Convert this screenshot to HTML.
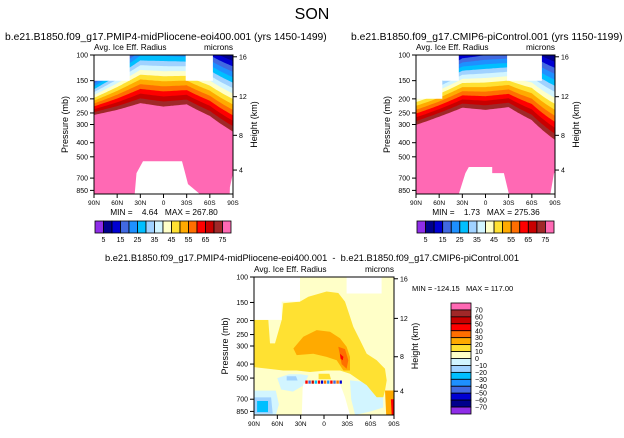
<!DOCTYPE html>
<html><head><meta charset="utf-8"><style>
body{margin:0;background:#fff}
svg text{font-family:"Liberation Sans",sans-serif;fill:#000;white-space:pre}
</style></head><body>
<svg id="chart" width="624" height="433" viewBox="0 0 624 433" xmlns="http://www.w3.org/2000/svg">
<text x="312" y="19" font-size="16" text-anchor="middle">SON</text>
</svg>
<script>
const colors=['#8F2DE8','#00008C','#0000D2','#4169E1','#1E90FF','#00BFFF','#A0D2FF','#D2F5FF','#FFFFC8','#FFE132','#FFAA00','#FF6E00','#FF0000','#C80000','#A02828','#FF69B4'];
const topLevels=[5,10,15,20,25,30,35,40,45,50,55,60,65,70,75];
const diffLevels=[-70,-60,-50,-40,-30,-20,-10,0,10,20,30,40,50,60,70];
const pTicks=[100,150,200,250,300,400,500,700,850];
const kmTicks=[16,12,8,4];
const latTicks=[90,60,30,0,-30,-60,-90];
const latLabels=['90N','60N','30N','0','30S','60S','90S'];
// panel A field
const latsA=[90,60,30,0,-30,-60,-90];
const tropoA=[258,238,214,226,218,262,336];
const spaceA=[0.045,0.06,0.075,0.08,0.075,0.08,0.086];
const maskTopA=[[[90,100],[43.8,100],[43.8,150],[90,150]],[[-28.7,100],[-64,100],[-64,150],[-28.7,150]]];
const maskSfcA=[[[37.3,900],[35,647],[26.5,537],[-24,537],[-27.4,630],[-31.7,770],[-47,900]],[[-85.7,900],[-86,810],[-90,647],[-90,900]]];
// panel B field
const tropoB=[302,265,230,238,228,280,383];
const spaceB=[0.06,0.06,0.065,0.072,0.07,0.085,0.095];
const maskTopB=[[[90,100],[34.6,100],[34.6,150],[56,150],[56,200],[90,200]],[[-28,100],[-73,100],[-73,150],[-28,150]]];
const maskSfcB=[[[34.6,900],[26,647],[21.6,587],[-8.7,587],[-8.7,647],[-23.8,647],[-30.3,900]],[[-84,900],[-88.7,647],[-90,647],[-90,900]]];
// diff field polygons [lat,p]
const diffGold=[[90,198],[71.6,198],[69.4,288],[63,288],[54.4,198],[52.3,152],[30.9,148],[20.1,137],[-3.4,126],[-18.4,129],[-27,148],[-33.4,188],[-37.7,221],[-46.3,273],[-54.9,339],[-67.7,377],[-78.4,431],[-80.6,519],[-78.4,609],[-76.3,679],[-67.7,679],[-54.9,561],[-33.4,466],[-20.6,443],[-3.4,443],[18,454],[35.1,443],[52.3,443],[71.6,431],[90,420]];
const diffOrange=[[39.4,312],[26.6,259],[9.4,233],[-7.7,239],[-20.6,265],[-29.1,304],[-33.4,357],[-33.4,443],[-24.9,443],[-16.3,377],[-3.4,357],[13.7,339],[35.1,347]];
const diffDkOrange=[[-18.4,304],[-27,315],[-31.2,377],[-29.1,431],[-22.7,400]];
const diffRed=[[-20.6,339],[-24.9,357],[-24,377],[-21.4,367]];
const diffGoldSmall=[[7,466],[-7,466],[-9,510],[7,510]];
const diffCyan1=[[60,500],[45,470],[30,470],[20,480],[26,560],[40,620],[55,600]];
const diffCyan2=[[-33.4,519],[-50,530],[-76,560],[-76,800],[-60,850],[-40,900],[-35,700]];
const diffCyan3=[[90,610],[62,610],[58,760],[62,900],[90,900]];
const diffBlue1=[[48,485],[36,485],[34,520],[48,520]];
const diffBlue2=[[90,680],[68,680],[66,880],[90,880]];
const diffSky=[[86,720],[72,720],[72,860],[86,860]];
const diffStripR=[[-78.4,609],[-90,609],[-90,900],[-80,900]];
const diffStripRed=[[-86,700],[-90,700],[-90,900],[-87,900]];
const diffMaskTop=[[[90,100],[30.9,100],[30.9,148],[54.4,148],[54.4,198],[90,198]],[[-29,100],[-74,100],[-74,130],[-29,130]]];
const diffMaskSfc=[[[28.5,900],[27.5,600],[26.6,547],[-20.6,547],[-27,679],[-33.4,900]]];
const speckLats=[24,20,16,12,8,4,0,-4,-8,-12,-16,-20];
const speckIdx=[12,3,13,5,12,2,11,4,12,3,11,2];

const svg=document.getElementById('chart');
const NS='http://www.w3.org/2000/svg';
function el(t,a,parent){const e=document.createElementNS(NS,t);for(const k in a)e.setAttribute(k,a[k]);(parent||svg).appendChild(e);return e;}
function txt(s,a,parent){const e=el('text',a,parent);e.textContent=s;return e;}
function interp(lats,vals,lat){for(let i=0;i<lats.length-1;i++){if(lat<=lats[i]&&lat>=lats[i+1]){const t=(lats[i]-lat)/(lats[i]-lats[i+1]);return vals[i]+t*(vals[i+1]-vals[i]);}}return vals[vals.length-1];}
function kmToP(z){if(z<=11)return 1013.25*Math.pow(1-2.2558e-5*z*1000,5.256);return 226.3*Math.exp(-(z-11)*1000/6341.6);}

function panel(id,x0,y0,x1,y1,title,titleX){
  const g=el('g',{});
  
  
  const xOf=lat=>x0+(90-lat)/180*(x1-x0);
  const yOf=p=>y0+Math.log(p/100)/Math.log(9)*(y1-y0);
  const cp=el('clipPath',{id:id+'-clip'},g);el('rect',{x:x0,y:y0,width:x1-x0,height:y1-y0},cp);
  const plot=el('g',{'clip-path':'url(#'+id+'-clip)'},g);
  
  
  const poly=(pts,fill,name)=>{const e=el('polygon',{points:pts.map(q=>xOf(q[0]).toFixed(1)+','+yOf(q[1]).toFixed(1)).join(' '),fill:fill},plot);return e;};
  if(title){const t=txt(title,{x:titleX,y:40,'font-size':10.3},g);}
  const st=txt('Avg. Ice Eff. Radius',{x:x0,y:y0-5,'font-size':8.3},g);
  const un=txt('microns',{x:x1,y:y0-5,'font-size':8.3,'text-anchor':'end'},g);
  const finish=()=>{
    el('rect',{x:x0,y:y0,width:x1-x0,height:y1-y0,fill:'none',stroke:'#000','stroke-width':1},g);
    pTicks.forEach(p=>{const y=yOf(p);el('line',{x1:x0-4,y1:y,x2:x0,y2:y,stroke:'#000'},g);const t=txt(String(p),{x:x0-6,y:y+2.5,'font-size':7,'text-anchor':'end'},g);});
    kmTicks.forEach(k=>{const y=yOf(kmToP(k));el('line',{x1:x1,y1:y,x2:x1+4,y2:y,stroke:'#000'},g);const t=txt(String(k),{x:x1+6,y:y+2.5,'font-size':7},g);});
    latTicks.forEach((l,i)=>{const x=xOf(l);el('line',{x1:x,y1:y1,x2:x,y2:y1+4,stroke:'#000'},g);const t=txt(latLabels[i],{x:x,y:y1+11,'font-size':6.5,'text-anchor':'middle'},g);});
    const yt=txt('Pressure (mb)',{x:0,y:0,'font-size':9,'text-anchor':'middle',transform:`translate(${x0-26},${(y0+y1)/2}) rotate(-90)`},g);
    const ht=txt('Height (km)',{x:0,y:0,'font-size':9,'text-anchor':'middle',transform:`translate(${x1+24},${(y0+y1)/2}) rotate(-90)`},g);
  };
  return {g,plot,xOf,yOf,poly,finish};
}

function bandPanel(P,tropo,space,maskTop,maskSfc){
  P.poly([[90,100],[-90,100],[-90,900],[90,900]],colors[15],'band-75-plus');
  for(let j=1;j<=15;j++){
    const pts=[[90,100]];
    for(let lat=90;lat>=-90;lat-=2){const p=interp(latsA,tropo,lat)*Math.exp(-(j-1)*interp(latsA,space,lat));pts.push([lat,Math.max(p,60)]);}
    pts.push([-90,100]);
    P.poly(pts,colors[15-j],'band-'+(15-j));
  }
  maskTop.concat(maskSfc).forEach(m=>P.poly(m,'#fff','missing-data-mask'));
  P.finish();
}
function hColorbar(x0,y0,w,h,name){
  const g=el('g',{});
  const bw=w/colors.length;
  colors.forEach((c,i)=>{el('rect',{x:x0+i*bw,y:y0,width:bw,height:h,fill:c,stroke:'#000','stroke-width':0.8},g);});
  topLevels.forEach((v,i)=>{if(i%2===0){const t=txt(String(v),{x:x0+(i+1)*bw,y:y0+h+9,'font-size':7,'text-anchor':'middle'},g);}});
}

const A=panel('panel-pliocene',94,55,233,194,'b.e21.B1850.f09_g17.PMIP4-midPliocene-eoi400.001 (yrs 1450-1499)',5);
bandPanel(A,tropoA,spaceA,maskTopA,maskSfcA);
let m=txt('MIN =    4.64   MAX = 267.80',{x:164,y:215,'font-size':8.3,'text-anchor':'middle'});


hColorbar(95,221,136,12,'colorbar-a');

const B=panel('panel-picontrol',416,55,555,194,'b.e21.B1850.f09_g17.CMIP6-piControl.001 (yrs 1150-1199)',351);
bandPanel(B,tropoB,spaceB,maskTopB,maskSfcB);
m=txt('MIN =    1.73   MAX = 275.36',{x:486,y:215,'font-size':8.3,'text-anchor':'middle'});


hColorbar(417,221,137,12,'colorbar-b');

const C=panel('panel-difference',254,277,394,415,null,0);
C.poly([[90,100],[-90,100],[-90,900],[90,900]],colors[8],'diff-0-10');
C.poly(diffCyan1,colors[7],'diff-cyan-1');
C.poly(diffCyan2,colors[7],'diff-cyan-2');
C.poly(diffCyan3,colors[7],'diff-cyan-3');
C.poly(diffBlue1,colors[6],'diff-blue-1');
C.poly(diffBlue2,colors[6],'diff-blue-2');
C.poly(diffSky,colors[5],'diff-sky');
C.poly(diffGold,colors[9],'diff-10-20');
C.poly(diffGoldSmall,colors[9],'diff-10-20-small');
C.poly(diffOrange,colors[10],'diff-20-30');
C.poly(diffDkOrange,colors[11],'diff-30-40');
C.poly(diffRed,colors[12],'diff-40-50');
C.poly(diffStripR,colors[10],'diff-strip-south');
C.poly(diffStripRed,colors[12],'diff-strip-south-red');
diffMaskTop.concat(diffMaskSfc).forEach(mk=>C.poly(mk,'#fff','missing-data-mask'));
speckLats.forEach((l,i)=>{C.poly([[l,520],[l-3,520],[l-3,547],[l,547]],colors[speckIdx[i]],'speckle');});
C.finish();
m=txt('b.e21.B1850.f09_g17.PMIP4-midPliocene-eoi400.001  -  b.e21.B1850.f09_g17.CMIP6-piControl.001',{x:312,y:261,'font-size':9.3,'text-anchor':'middle'});


m=txt('MIN = -124.15   MAX = 117.00',{x:412,y:291,'font-size':7.5});


(function(){
  const g=el('g',{});
  const x0=451,y0=303,w=20,h=111,bh=h/colors.length;
  colors.slice().reverse().forEach((c,i)=>{el('rect',{x:x0,y:y0+i*bh,width:w,height:bh,fill:c,stroke:'#000','stroke-width':0.8},g);});
  diffLevels.slice().reverse().forEach((v,i)=>{const t=txt(String(v).replace('-','\u2212'),{x:x0+w+4,y:y0+(i+1)*bh+2.5,'font-size':7},g);});
})();
</script>
</body></html>
